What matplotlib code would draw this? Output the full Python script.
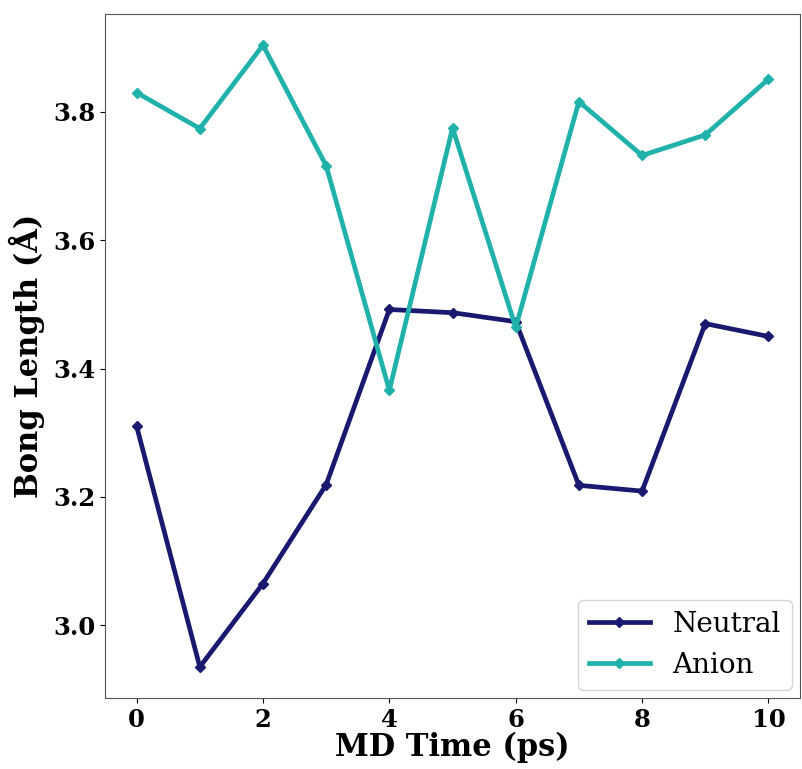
import matplotlib
matplotlib.use("Agg")
import matplotlib.pyplot as plt

time_ps = [0, 1, 2, 3, 4, 5, 6, 7, 8, 9, 10]
neutral = [3.310, 2.935, 3.065, 3.219, 3.492, 3.487, 3.473, 3.218, 3.209, 3.470, 3.450]
anion = [3.830, 3.774, 3.904, 3.716, 3.366, 3.775, 3.464, 3.816, 3.732, 3.764, 3.851]

fig = plt.figure(figsize=(8.03, 7.69), dpi=100)
ax = fig.add_axes([0.1308, 0.0923, 0.8655, 0.8895])

ax.plot(time_ps, neutral, color="#191970", lw=3.4, marker="D", ms=5, label="Neutral")
ax.plot(time_ps, anion, color="#20B2AA", lw=3.4, marker="D", ms=5, label="Anion")

ax.set_xticks([0, 2, 4, 6, 8, 10])
ax.set_yticks([3.0, 3.2, 3.4, 3.6, 3.8])
for lab in ax.get_xticklabels() + ax.get_yticklabels():
    lab.set_fontfamily("DejaVu Serif")
    lab.set_fontweight("bold")
    lab.set_fontsize(17.5)

ax.set_xlabel("MD Time (ps)", fontfamily="DejaVu Serif", fontweight="bold", fontsize=22, labelpad=0)
ax.set_ylabel("Bong Length (Å)", fontfamily="DejaVu Serif", fontweight="bold", fontsize=22, labelpad=6)

for s in ax.spines.values():
    s.set_color("#555555")

ax.legend(loc="lower right", prop={"family": "DejaVu Serif", "size": 20}, handlelength=2.2,
          borderaxespad=0.3)

fig.savefig("out.png", dpi=100)
